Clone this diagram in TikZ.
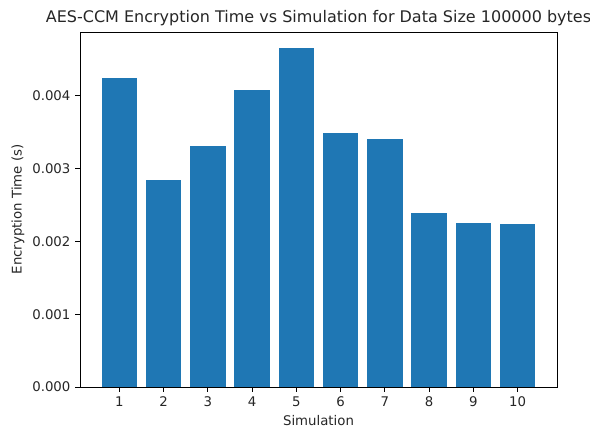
\documentclass[tikz,border=0pt]{standalone}
\usepackage{fontspec}
\setmainfont{DejaVu Sans}
\definecolor{barblue}{HTML}{1F77B4}
\tikzset{
  bar/.style={fill=barblue, draw=none},
  spine/.style={line width=0.9pt, black},
  tickmark/.style={line width=0.9pt, black},
  ticklab/.style={font=\fontsize{13.3}{16}\selectfont, text=black!85, inner sep=0pt},
  axlab/.style={font=\fontsize{13.3}{16}\selectfont, text=black!85, inner sep=0pt},
  titlelab/.style={font=\fontsize{16}{19}\selectfont, text=black!85, inner sep=0pt}
}
\begin{document}
\begin{tikzpicture}[x=1pt,y=-1pt]
\useasboundingbox (0,0) rectangle (590,430);
% bars
\foreach \i/\v in {1/4.244,2/2.843,3/3.310,4/4.075,5/4.657,6/3.493,7/3.402,8/2.386,9/2.249,10/2.239}{
  \pgfmathsetmacro{\xc}{119.4+(\i-1)*44.25}
  \pgfmathsetmacro{\yt}{387-\v*72.8}
  \path[bar] (\xc-17.7,387) rectangle (\xc+17.7,\yt);
  \draw[tickmark] (\xc,387) -- (\xc,391.7);
  \node[ticklab, anchor=north] (xt\i) at (\xc,396.4) {\i};
}
% y ticks
\foreach \k/\t in {0/0.000,1/0.001,2/0.002,3/0.003,4/0.004}{
  \pgfmathsetmacro{\yy}{387-\k*72.8}
  \draw[tickmark] (80,\yy) -- (75.3,\yy);
  \node[ticklab, anchor=east] (yt\k) at (70.6,\yy) {\t};
}
% spines
\draw[spine] (80,32) rectangle (557,387);
% labels
\node[axlab] (xlabel) at (318.5,421) {Simulation};
\node[axlab, rotate=90] (ylabel) at (18,209.5) {Encryption Time (s)};
\node[titlelab] (title) at (318.5,18) {AES-CCM Encryption Time vs Simulation for Data Size 100000 bytes};
\end{tikzpicture}
\end{document}
